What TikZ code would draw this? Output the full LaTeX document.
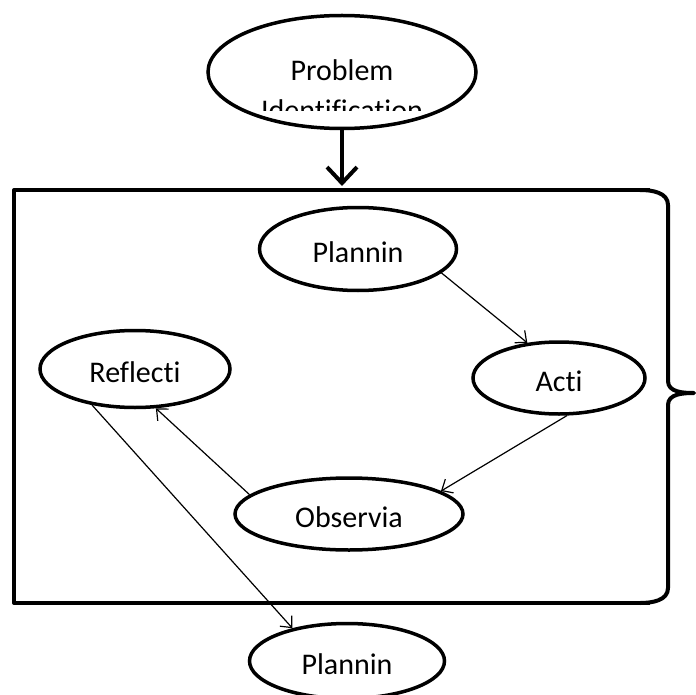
\documentclass[tikz,border=0pt]{standalone}
\usepackage{fontspec}
\setmainfont{Carlito}[Ligatures=NoCommon]
\usetikzlibrary{shapes.geometric,arrows.meta}
\newcommand{\phasefont}{\fontsize{30}{40}\selectfont}
\tikzset{phase/.style={ellipse, draw, line width=3.5pt, inner sep=0pt, font=\phasefont,
    text height=27pt, text depth=0pt},
  link/.style={-{Straight Barb[length=9pt,width=16pt]}, line width=1.2pt},
  frame/.style={line width=4pt, line join=round}}
\begin{document}
\begin{tikzpicture}[x=1pt,y=-1pt]
      \useasboundingbox (0,0) rectangle (695,695);
      \node[phase, minimum width=268pt, minimum height=113pt] (prob) at (342,72) {};   % Problem
      \begin{scope}
        \clip (200,20) rectangle (480,111);
        \node[font=\phasefont, align=center] (probtext) at (342,90) {Problem\\Identification};
      \end{scope}
      \coordinate (boxtop) at (342,186);
      \draw[-{Straight Barb[length=16pt,width=30pt]}, line width=4pt] (prob.south) -- (boxtop);
      % box with brace on the right
      \draw[frame] (650,190) -- (14,190) -- (14,603) -- (650,603);
      \draw[frame] (640,190) to[out=0,in=90] (668,205) -- (668,381)
        to[out=-90,in=180] (694,393) to[out=180,in=90] (668,405) -- (668,588)
        to[out=-90,in=0] (640,603);
      \node[phase, minimum width=197pt, minimum height=83pt] (plan) at (358,249) {Plannin};  % Planning
      \node[phase, minimum width=172pt, minimum height=72pt] (acti) at (559,378) {Acti};     % Action
      \node[phase, minimum width=228pt, minimum height=72pt] (obs) at (349,514) {Observia};  % Observation
      \node[phase, minimum width=190pt, minimum height=77pt] (refl) at (135,369) {Reflecti}; % Reflection
      \node[phase, minimum width=195pt, minimum height=75pt] (plan2) at (347,661) {Plannin}; % next cycle
      \draw[link] (plan.-16) -- (acti.132);
      \draw[link] (acti.-78) -- (obs.14);
      \draw[link] (obs.169) -- (refl.-62);
      \draw[link] (refl.220) -- (plan2.149);
\end{tikzpicture}
\end{document}
